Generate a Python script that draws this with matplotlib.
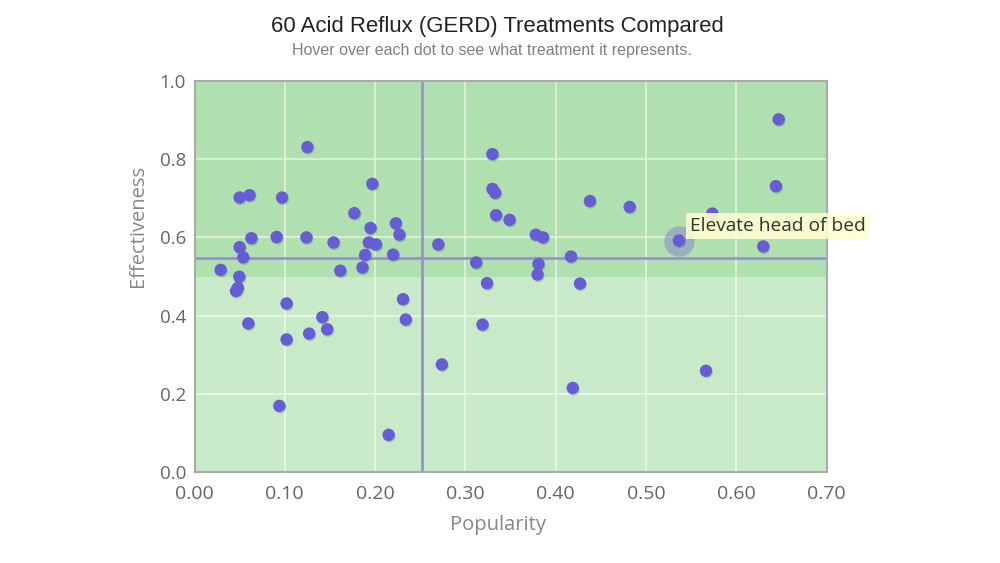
import matplotlib
matplotlib.use("Agg")
import matplotlib.pyplot as plt
import matplotlib.patheffects as pe

popularity = [0.125, 0.330, 0.197, 0.050, 0.061, 0.097, 0.330, 0.333, 0.334, 0.349,
              0.177, 0.195, 0.223, 0.227, 0.063, 0.091, 0.124, 0.154, 0.193, 0.201,
              0.270, 0.050, 0.054, 0.189, 0.220, 0.312, 0.029, 0.0496, 0.048, 0.046,
              0.1615, 0.186, 0.324, 0.102, 0.231, 0.0596, 0.1416, 0.234, 0.319, 0.127,
              0.147, 0.102, 0.274, 0.094, 0.215, 0.647, 0.644, 0.438, 0.482, 0.5735,
              0.378, 0.386, 0.5366, 0.630, 0.381, 0.417, 0.380, 0.427, 0.5665, 0.419]
effectiveness = [0.831, 0.813, 0.737, 0.702, 0.708, 0.702, 0.724, 0.714, 0.657, 0.645,
                 0.662, 0.624, 0.636, 0.607, 0.598, 0.601, 0.600, 0.587, 0.587, 0.582,
                 0.582, 0.575, 0.549, 0.555, 0.556, 0.536, 0.517, 0.4995, 0.471, 0.463,
                 0.515, 0.523, 0.483, 0.431, 0.442, 0.380, 0.396, 0.390, 0.377, 0.354,
                 0.365, 0.339, 0.275, 0.169, 0.095, 0.902, 0.731, 0.693, 0.678, 0.661,
                 0.607, 0.600, 0.592, 0.577, 0.532, 0.551, 0.505, 0.482, 0.259, 0.215]

avg_popularity = 0.252
avg_effectiveness = 0.547
threshold = 0.5
highlight_index = 52
highlight_label = "Elevate head of bed"

x_ticks = [0.0, 0.1, 0.2, 0.3, 0.4, 0.5, 0.6, 0.7]
y_ticks = [0.0, 0.2, 0.4, 0.6, 0.8, 1.0]

title = "60 Acid Reflux (GERD) Treatments Compared"
subtitle = "Hover over each dot to see what treatment it represents."
x_label = "Popularity"
y_label = "Effectiveness"

tick_font = ["Open Sans", "DejaVu Sans"]
title_font = ["Liberation Sans", "DejaVu Sans"]

fig = plt.figure(figsize=(10, 5.63), dpi=100)
ax = fig.add_axes([0.1945, 0.1616, 0.632, 0.6945])
ax.set_xlim(0, 0.7)
ax.set_ylim(0, 1.0)

ax.axhspan(threshold, 1.0, color="#b0e0b0", zorder=0, lw=0)
ax.axhspan(0, threshold, color="#c9eac9", zorder=0, lw=0)

ax.set_xticks(x_ticks)
ax.set_yticks(y_ticks)
ax.set_xticklabels([f"{v:.2f}" for v in x_ticks], fontfamily=tick_font, fontsize=14, color="#666666")
ax.set_yticklabels([f"{v:.1f}" for v in y_ticks], fontfamily=tick_font, fontsize=13.5, color="#666666")
ax.tick_params(axis="x", length=0, pad=9)
ax.tick_params(axis="y", length=0, pad=6)
ax.grid(True, color="white", alpha=0.55, lw=1.3, zorder=1)
ax.set_axisbelow(True)

for s in ax.spines.values():
    s.set_color("#aaaaaa")
    s.set_linewidth(1.5)

ax.axvline(avg_popularity, color="#9890dc", lw=2, zorder=2)
ax.axhline(avg_effectiveness, color="#9890dc", lw=2, zorder=2)

sc = ax.scatter(popularity, effectiveness, s=80, color="#665cd6", zorder=4, lw=0)
sc.set_path_effects([pe.SimplePatchShadow(offset=(0.6, -1.0), alpha=0.25, shadow_rgbFace="#336633"), pe.Normal()])

hx, hy = popularity[highlight_index], effectiveness[highlight_index]
ax.scatter([hx], [hy], s=480, color="#8a8fc8", alpha=0.6, zorder=3, lw=0)

ax.annotate(highlight_label, xy=(hx, hy), xytext=(8, 4), textcoords="offset points",
            ha="left", va="bottom", fontsize=13.8, color="#333333", fontfamily=tick_font,
            bbox=dict(boxstyle="square,pad=0.2", fc="#ffffd0", ec="none", alpha=0.88),
            zorder=6)

ax.text(0.48, -0.1356, x_label, transform=ax.transAxes, ha="center", va="center",
        fontfamily=tick_font, fontsize=14.5, color="#888888")
ax.text(-0.089, 0.629, y_label, transform=ax.transAxes, ha="center", va="center", rotation=90,
        fontfamily=tick_font, fontsize=14.5, color="#888888")

fig.text(0.497, 0.953, title, ha="center", va="center", fontsize=15.9, color="#222222", fontfamily=title_font)
fig.text(0.492, 0.910, subtitle, ha="center", va="center", fontsize=11.5, color="#808080", fontfamily=title_font)

fig.savefig("out.png", dpi=100)
